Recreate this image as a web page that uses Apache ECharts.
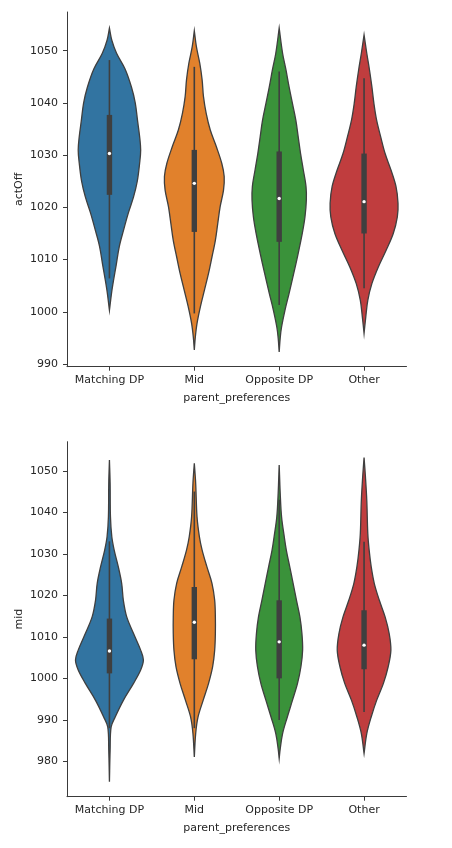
<!DOCTYPE html>
<html>
<head>
<meta charset="utf-8">
<script src="https://cdn.jsdelivr.net/npm/echarts@6/dist/echarts.min.js"></script>
<style>
  html, body { margin: 0; padding: 0; background: #fff; }
  #chart { width: 452px; height: 848px; }
</style>
</head>
<body>
<div id="chart"></div>
<script>
// categories and colours
const categories = ['Matching DP', 'Mid', 'Opposite DP', 'Other'];
const palette = ['#3274a1', '#e1812c', '#3a923a', '#c03d3e'];

const actOffTicks = [990, 1000, 1010, 1020, 1030, 1040, 1050];
const midTicks = [980, 990, 1000, 1010, 1020, 1030, 1040, 1050];

// violin outlines: value levels + relative half width (1 = widest violin)
const actOffMatchV = [1000.3, 1003.5, 1006, 1009, 1012.5, 1015.5, 1019, 1022, 1025, 1028.5, 1031, 1033.5, 1036.5, 1040, 1043, 1046.5, 1049.5, 1052, 1054.3];
const actOffMatchW = [0, .06, .12, .20, .29, .41, .56, .71, .82, .89, .92, .89, .83, .76, .65, .46, .21, .07, 0];
const actOffMidV = [992.7, 995.2, 997.8, 1001, 1004.2, 1007.4, 1010.5, 1013.7, 1016.9, 1020.1, 1023.3, 1025.9, 1028.4, 1031.6, 1034.8, 1038, 1041.2, 1044.4, 1047.6, 1050.8, 1053.8];
const actOffMidW = [0, .03, .08, .18, .30, .42, .52, .62, .69, .76, .86, .88, .81, .65, .47, .35, .27, .23, .16, .06, 0];
const actOffOppV = [992.3, 995, 997.1, 1000.3, 1003.5, 1007.4, 1011.2, 1015, 1018.2, 1021.4, 1024, 1027.2, 1030.3, 1033.5, 1036.7, 1039.9, 1043.1, 1046.3, 1049.5, 1054.3];
const actOffOppW = [0, .03, .07, .17, .29, .43, .56, .68, .76, .80, .79, .71, .63, .56, .49, .39, .29, .20, .10, 0];
const actOffOtherV = [995.9, 999, 1002.2, 1005.4, 1008.6, 1011.8, 1015, 1018.2, 1020.8, 1024, 1027.2, 1030.3, 1033.5, 1036.7, 1039.9, 1043.1, 1046.3, 1049.5, 1053];
const actOffOtherW = [0, .05, .11, .23, .42, .65, .86, .98, 1.0, .94, .79, .62, .49, .37, .29, .23, .16, .08, 0];

const midMatchV = [975.1, 982.7, 988.3, 990.7, 994.7, 998.8, 1002, 1004.4, 1006.8, 1010.8, 1014.8, 1018.8, 1022.9, 1026.9, 1030.9, 1034.1, 1038.9, 1047, 1052.6];
const midMatchW = [0, .02, .05, .17, .41, .71, .92, 1.0, .92, .71, .51, .41, .36, .26, .14, .07, .03, .02, 0];
const midMidV = [981.1, 986.7, 990.7, 994.7, 998.8, 1002.8, 1006.8, 1010.8, 1014.8, 1018.8, 1022.9, 1026.9, 1030.9, 1034.1, 1038.9, 1047, 1051.8];
const midMidW = [0, .04, .11, .26, .42, .54, .60, .62, .62, .60, .52, .37, .23, .15, .08, .04, 0];
const midOppV = [980.7, 983, 986.7, 990.7, 994.7, 998.8, 1002.8, 1006.8, 1010.8, 1014.8, 1018.8, 1022.9, 1026.9, 1030.9, 1034.1, 1038.9, 1044.6, 1051.4];
const midOppW = [0, .03, .10, .24, .39, .54, .64, .69, .67, .61, .51, .41, .31, .21, .15, .07, .03, 0];
const midOtherV = [981.9, 986.7, 990.7, 994.7, 998.8, 1002.8, 1006.8, 1010.8, 1014.8, 1018.8, 1022.9, 1026.9, 1030.9, 1034.9, 1042.9, 1048.6, 1053.2];
const midOtherW = [0, .08, .21, .37, .57, .71, .79, .74, .62, .45, .30, .21, .15, .11, .08, .04, 0];

// inner box stats per category
const actOffQ1 = [1022.4, 1015.3, 1013.4, 1015];
const actOffMed = [1030.3, 1024.6, 1021.7, 1021.1];
const actOffQ3 = [1037.7, 1031, 1030.7, 1030.3];
const actOffLo = [1006.4, 999.7, 1001.3, 1004.5];
const actOffHi = [1048.2, 1046.9, 1046, 1044.7];

const midQ1 = [1001.2, 1004.6, 1000, 1002.2];
const midMed = [1006.6, 1013.5, 1008.8, 1008];
const midQ3 = [1014.4, 1022, 1018.8, 1016.4];
const midLo = [988, 988, 990, 991.9];
const midHi = [1033, 1045, 1043, 1032.9];

const actOffShapes = [[actOffMatchV, actOffMatchW], [actOffMidV, actOffMidW], [actOffOppV, actOffOppW], [actOffOtherV, actOffOtherW]];
const midShapes = [[midMatchV, midMatchW], [midMidV, midMidW], [midOppV, midOppW], [midOtherV, midOtherW]];

const ink = '#262626';
const spine = '#3a3a3a';
const inner = '#3f3f3f';
const font = 'DejaVu Sans';

function violinRender(shapes) {
  return function (params, api) {
    const i = api.value(0);
    const [levels, widths] = shapes[i];
    const half = api.size([1, 0])[0] * 0.4;
    const cx = api.coord([i, levels[0]])[0];
    const right = [], left = [];
    for (let k = 0; k < levels.length; k++) {
      const y = api.coord([i, levels[k]])[1];
      right.push([cx + widths[k] * half, y]);
      left.unshift([cx - widths[k] * half, y]);
    }
    const q1 = api.coord([i, api.value(1)])[1];
    const med = api.coord([i, api.value(2)])[1];
    const q3 = api.coord([i, api.value(3)])[1];
    const lo = api.coord([i, api.value(4)])[1];
    const hi = api.coord([i, api.value(5)])[1];
    return {
      type: 'group',
      children: [
        {
          type: 'polygon',
          shape: { points: right.concat(left), smooth: 0.35 },
          style: { fill: palette[i], stroke: inner, lineWidth: 1.3 }
        },
        {
          type: 'line',
          shape: { x1: cx, y1: lo, x2: cx, y2: hi },
          style: { stroke: inner, lineWidth: 1.6 }
        },
        {
          type: 'rect',
          shape: { x: cx - 2.7, y: q3, width: 5.4, height: q1 - q3 },
          style: { fill: inner }
        },
        {
          type: 'circle',
          shape: { cx: cx, cy: med, r: 1.7 },
          style: { fill: '#fff' }
        }
      ]
    };
  };
}

function statsData(q1, med, q3, lo, hi) {
  return categories.map((c, i) => [i, q1[i], med[i], q3[i], lo[i], hi[i]]);
}

function xAxisOpt(gridIndex) {
  return {
    gridIndex: gridIndex,
    type: 'category',
    data: categories,
    boundaryGap: true,
    name: 'parent_preferences',
    nameLocation: 'middle',
    nameGap: 26,
    nameMoveOverlap: false,
    nameTextStyle: { color: ink, fontSize: 11, fontFamily: font },
    axisLine: { show: true, lineStyle: { color: spine, width: 1 } },
    axisTick: { show: true, alignWithLabel: true, length: 4, lineStyle: { color: spine, width: 1 } },
    axisLabel: { color: ink, fontSize: 11, fontFamily: font, margin: 8, interval: 0 },
    splitLine: { show: false }
  };
}

function yAxisOpt(gridIndex, name, min, max, ticks) {
  return {
    gridIndex: gridIndex,
    type: 'value',
    min: min,
    max: max,
    name: name,
    nameLocation: 'middle',
    nameGap: 42,
    nameMoveOverlap: false,
    nameTextStyle: { color: ink, fontSize: 11, fontFamily: font },
    axisLine: { show: true, lineStyle: { color: spine, width: 1 } },
    axisTick: { show: true, length: 4, customValues: ticks, lineStyle: { color: spine, width: 1 } },
    axisLabel: {
      color: ink, fontSize: 11, fontFamily: font, margin: 9, customValues: ticks,
      formatter: v => String(v)
    },
    splitLine: { show: false }
  };
}

const chart = echarts.init(document.getElementById('chart'), null, { renderer: 'canvas' });
chart.setOption({
  animation: false,
  backgroundColor: '#fff',
  grid: [
    { left: 67, top: 12, width: 339.5, height: 354.7 },
    { left: 67, top: 441.7, width: 339.5, height: 355 }
  ],
  xAxis: [xAxisOpt(0), xAxisOpt(1)],
  yAxis: [
    yAxisOpt(0, 'actOff', 989.5, 1057.4, actOffTicks),
    yAxisOpt(1, 'mid', 971.5, 1057, midTicks)
  ],
  series: [
    {
      type: 'custom',
      xAxisIndex: 0,
      yAxisIndex: 0,
      renderItem: violinRender(actOffShapes),
      encode: { x: 0, y: [1, 2, 3, 4, 5] },
      data: statsData(actOffQ1, actOffMed, actOffQ3, actOffLo, actOffHi)
    },
    {
      type: 'custom',
      xAxisIndex: 1,
      yAxisIndex: 1,
      renderItem: violinRender(midShapes),
      encode: { x: 0, y: [1, 2, 3, 4, 5] },
      data: statsData(midQ1, midMed, midQ3, midLo, midHi)
    }
  ]
});
</script>
</body>
</html>
